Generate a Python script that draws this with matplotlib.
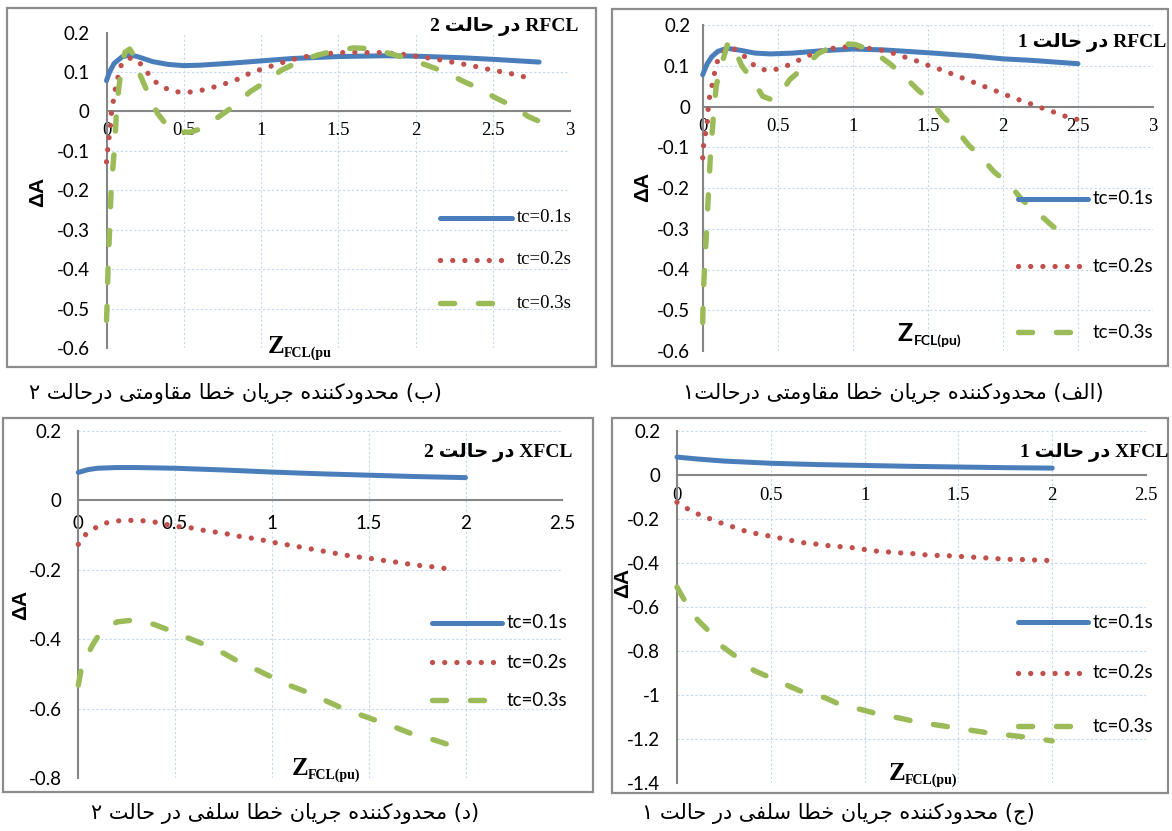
import matplotlib
matplotlib.use('Agg')
import matplotlib.pyplot as plt
from matplotlib.lines import Line2D
from matplotlib.patches import Rectangle
from matplotlib.ticker import FixedLocator, FuncFormatter

W, H = 1172, 831
BLUE = '#4a7ebb'
RED = '#c0504d'
GREEN = '#9bbb59'
GRID = '#c6d8ef'
AXIS = '#868686'
BOX = '#8c8c8c'

legend_labels = ['tc=0.1s', 'tc=0.2s', 'tc=0.3s']

# (ب) RFCL case 2
b_x1 = [0, 0.02, 0.05, 0.1, 0.15, 0.2, 0.3, 0.4, 0.5, 0.6, 0.8, 1.0, 1.2, 1.5, 1.8, 2.0, 2.3, 2.5, 2.8]
b_y1 = [0.078, 0.1, 0.122, 0.138, 0.143, 0.139, 0.126, 0.119, 0.116, 0.117, 0.122, 0.128, 0.134, 0.139, 0.141, 0.14, 0.136, 0.132, 0.125]
b_x2 = [0, 0.008, 0.017, 0.026, 0.033, 0.045, 0.058, 0.075, 0.097, 0.15, 0.2, 0.25, 0.3, 0.36, 0.44, 0.52, 0.6, 0.68, 0.75, 0.83, 0.9, 0.98,
        1.06, 1.13, 1.21, 1.29, 1.37, 1.45, 1.53, 1.61, 1.69, 1.77, 1.85, 1.93, 2.0, 2.09, 2.17, 2.25, 2.32, 2.4, 2.48, 2.56, 2.64, 2.72]
b_y2 = [-0.128, -0.096, -0.065, -0.034, 0.0, 0.028, 0.059, 0.088, 0.12, 0.135, 0.13, 0.106, 0.08, 0.062, 0.05, 0.048, 0.052, 0.06, 0.068, 0.078, 0.092, 0.104,
        0.114, 0.123, 0.132, 0.139, 0.143, 0.147, 0.149, 0.15, 0.149, 0.149, 0.147, 0.144, 0.14, 0.135, 0.13, 0.124, 0.119, 0.113, 0.106, 0.1, 0.094, 0.086]
b_x3 = [0, 0.003, 0.01, 0.02, 0.03, 0.05, 0.065, 0.08, 0.1, 0.12, 0.15, 0.18, 0.22, 0.27, 0.33, 0.4, 0.47, 0.54, 0.62, 0.74,
        0.83, 0.93, 1.03, 1.13, 1.24, 1.36, 1.46, 1.6, 1.72, 1.84, 1.96, 2.08, 2.19, 2.3, 2.41, 2.52, 2.63, 2.73, 2.8]
b_y3 = [-0.53, -0.5, -0.4, -0.3, -0.2, -0.1, 0.0, 0.06, 0.12, 0.15, 0.158, 0.14, 0.09, 0.045, -0.005, -0.04, -0.052, -0.053, -0.043, -0.01,
        0.015, 0.05, 0.075, 0.104, 0.125, 0.142, 0.152, 0.161, 0.159, 0.146, 0.133, 0.116, 0.1, 0.078, 0.058, 0.034, 0.013, -0.013, -0.025]

# (الف) RFCL case 1
a_x1 = [0, 0.03, 0.06, 0.1, 0.16, 0.25, 0.35, 0.45, 0.6, 0.8, 1.0, 1.2, 1.5, 1.8, 2.0, 2.2, 2.5]
a_y1 = [0.078, 0.105, 0.122, 0.135, 0.143, 0.138, 0.131, 0.129, 0.131, 0.137, 0.141, 0.139, 0.132, 0.124, 0.117, 0.113, 0.105]
a_x2 = [0, 0.005, 0.017, 0.03, 0.04, 0.055, 0.07, 0.085, 0.105, 0.15, 0.2, 0.27, 0.32, 0.38, 0.45, 0.53, 0.59, 0.66, 0.73, 0.8,
        0.87, 0.94, 1.02, 1.1, 1.17, 1.24, 1.31, 1.38, 1.45, 1.52, 1.6, 1.66, 1.73, 1.8, 1.87, 1.94, 2.01, 2.08, 2.15, 2.22,
        2.29, 2.36, 2.43, 2.5]
a_y2 = [-0.126, -0.098, -0.07, -0.04, 0.013, 0.039, 0.066, 0.093, 0.12, 0.138, 0.144, 0.126, 0.107, 0.092, 0.088, 0.095, 0.105, 0.117, 0.129, 0.137,
        0.143, 0.146, 0.146, 0.143, 0.14, 0.134, 0.126, 0.117, 0.109, 0.098, 0.089, 0.08, 0.07, 0.06, 0.05, 0.04, 0.03, 0.02, 0.011, 0.002,
        -0.008, -0.016, -0.026, -0.032]
a_x3 = [0, 0.005, 0.015, 0.025, 0.04, 0.05, 0.07, 0.09, 0.115, 0.17, 0.2, 0.26, 0.33, 0.4, 0.45, 0.51, 0.58, 0.68, 0.77,
        0.88, 0.95, 1.02, 1.13, 1.24, 1.33, 1.43, 1.52, 1.6, 1.69, 1.77, 1.86, 1.94, 2.04, 2.13, 2.23, 2.32, 2.42]
a_y3 = [-0.53, -0.45, -0.38, -0.31, -0.2, -0.13, -0.03, 0.05, 0.09, 0.158, 0.152, 0.1, 0.066, 0.025, 0.018, 0.027, 0.066, 0.098, 0.13,
        0.15, 0.154, 0.152, 0.136, 0.107, 0.079, 0.042, 0.013, -0.024, -0.057, -0.094, -0.126, -0.16, -0.19, -0.23, -0.26, -0.29, -0.32]

# (د) XFCL case 2
d_x1 = [0, 0.05, 0.1, 0.2, 0.3, 0.5, 0.75, 1.0, 1.25, 1.5, 1.75, 2.0]
d_y1 = [0.08, 0.088, 0.092, 0.094, 0.094, 0.092, 0.087, 0.081, 0.076, 0.072, 0.068, 0.065]
d_x2 = [0, 0.035, 0.08, 0.13, 0.19, 0.245, 0.3, 0.36, 0.42, 0.47, 0.53, 0.59, 0.64, 0.7, 0.76, 0.82, 0.87, 0.93, 0.98, 1.04,
        1.1, 1.15, 1.21, 1.27, 1.32, 1.38, 1.44, 1.49, 1.55, 1.61, 1.67, 1.72, 1.78, 1.84, 1.9, 1.95]
d_y2 = [-0.127, -0.1, -0.082, -0.067, -0.06, -0.058, -0.058, -0.06, -0.065, -0.072, -0.077, -0.08, -0.086, -0.091, -0.096, -0.103, -0.107, -0.112, -0.118, -0.125,
        -0.13, -0.135, -0.141, -0.147, -0.152, -0.158, -0.163, -0.166, -0.171, -0.176, -0.18, -0.185, -0.189, -0.192, -0.197, -0.2]
d_x3 = [0, 0.017, 0.07, 0.11, 0.2, 0.28, 0.39, 0.47, 0.57, 0.66, 0.75, 0.83, 0.93, 1.01, 1.11, 1.2, 1.29, 1.37, 1.47, 1.56, 1.65, 1.74, 1.84, 1.95]
d_y3 = [-0.532, -0.48, -0.42, -0.384, -0.35, -0.345, -0.357, -0.374, -0.397, -0.417, -0.44, -0.465, -0.49, -0.512, -0.537, -0.556, -0.58, -0.6,
        -0.62, -0.638, -0.656, -0.676, -0.69, -0.71]

# (ج) XFCL case 1
c_x1 = [0, 0.1, 0.25, 0.5, 0.75, 1.0, 1.25, 1.5, 1.75, 2.0]
c_y1 = [0.08, 0.072, 0.062, 0.052, 0.046, 0.042, 0.038, 0.035, 0.032, 0.03]
c_x2 = [0, 0.05, 0.1, 0.16, 0.21, 0.27, 0.33, 0.38, 0.44, 0.5, 0.56, 0.61, 0.67, 0.73, 0.79, 0.85, 0.91, 0.97, 1.03, 1.08,
        1.14, 1.2, 1.26, 1.32, 1.38, 1.44, 1.5, 1.56, 1.62, 1.68, 1.74, 1.79, 1.85, 1.91, 1.98]
c_y2 = [-0.125, -0.152, -0.175, -0.195, -0.212, -0.23, -0.245, -0.262, -0.27, -0.28, -0.29, -0.299, -0.309, -0.314, -0.321, -0.326, -0.329, -0.336, -0.344, -0.349,
        -0.352, -0.356, -0.359, -0.364, -0.367, -0.368, -0.371, -0.374, -0.377, -0.38, -0.384, -0.385, -0.386, -0.388, -0.39]
c_x3 = [0, 0.05, 0.11, 0.18, 0.24, 0.33, 0.41, 0.51, 0.6, 0.69, 0.79, 0.88, 0.98, 1.08, 1.18, 1.28, 1.38, 1.48, 1.57, 1.67, 1.78, 1.88, 2.0]
c_y3 = [-0.511, -0.586, -0.66, -0.72, -0.78, -0.836, -0.89, -0.927, -0.962, -0.995, -1.014, -1.049, -1.067, -1.09, -1.105, -1.124, -1.137,
        -1.15, -1.162, -1.175, -1.185, -1.195, -1.21]

captions = ['(ب) محدودکننده جریان خطا مقاومتی درحالت ۲',
            '(الف) محدودکننده جریان خطا مقاومتی درحالت۱',
            '(د) محدودکننده جریان خطا سلفی در حالت ۲',
            '(ج) محدودکننده جریان خطا سلفی در حالت ۱']
titles_fa = 'در حالت'

# ---- tiny persian shaper (matplotlib has no arabic shaping) ----
FORMS = {
    '\u0627': ('\ufe8d', '\ufe8e', None, None),
    '\u0628': ('\ufe8f', '\ufe90', '\ufe91', '\ufe92'),
    '\u062a': ('\ufe95', '\ufe96', '\ufe97', '\ufe98'),
    '\u062c': ('\ufe9d', '\ufe9e', '\ufe9f', '\ufea0'),
    '\u062d': ('\ufea1', '\ufea2', '\ufea3', '\ufea4'),
    '\u062e': ('\ufea5', '\ufea6', '\ufea7', '\ufea8'),
    '\u062f': ('\ufea9', '\ufeaa', None, None),
    '\u0631': ('\ufead', '\ufeae', None, None),
    '\u0633': ('\ufeb1', '\ufeb2', '\ufeb3', '\ufeb4'),
    '\u0637': ('\ufec1', '\ufec2', '\ufec3', '\ufec4'),
    '\u0641': ('\ufed1', '\ufed2', '\ufed3', '\ufed4'),
    '\u0642': ('\ufed5', '\ufed6', '\ufed7', '\ufed8'),
    '\u0644': ('\ufedd', '\ufede', '\ufedf', '\ufee0'),
    '\u0645': ('\ufee1', '\ufee2', '\ufee3', '\ufee4'),
    '\u0646': ('\ufee5', '\ufee6', '\ufee7', '\ufee8'),
    '\u0647': ('\ufee9', '\ufeea', '\ufeeb', '\ufeec'),
    '\u0648': ('\ufeed', '\ufeee', None, None),
    '\u06a9': ('\ufb8e', '\ufb8f', '\ufb90', '\ufb91'),
    '\u06cc': ('\ufbfc', '\ufbfd', '\ufbfe', '\ufbff'),
}


def fa(s):
    s = s.replace('\u0643', '\u06a9').replace('\u064a', '\u06cc')
    out = []
    for i, ch in enumerate(s):
        if ch not in FORMS:
            out.append(ch)
            continue
        prev = s[i - 1] if i > 0 else ''
        nxt = s[i + 1] if i + 1 < len(s) else ''
        jp = prev in FORMS and FORMS[prev][2] is not None
        jn = FORMS[ch][2] is not None and nxt in FORMS
        iso, fin, ini, med = FORMS[ch]
        if jp and jn:
            out.append(med)
        elif jp:
            out.append(fin)
        elif jn:
            out.append(ini)
        else:
            out.append(iso)
    vis = ''.join(out)[::-1]
    return vis.translate(str.maketrans('()', ')('))


def fx(x):
    return x / W


def fy(y):
    return 1 - y / H


def yfmt(v, pos):
    r = round(v, 2)
    if abs(r) < 1e-9:
        return '0'
    return f'{r:g}'


fig = plt.figure(figsize=(W / 100, H / 100), dpi=100)

SERIF = ['Liberation Serif', 'DejaVu Serif']
SANS = ['Lato', 'DejaVu Sans']

panels = [
    dict(px=(106.5, 570, 32.5, 348), xmax=3, ylim=(-0.6, 0.2), ystep=0.1, box=(7, 8, 596, 367),
         data=[(b_x1, b_y1), (b_x2, b_y2), (b_x3, b_y3)], xfont=SERIF, ypad=12, xpad=8,
         title=('RFCL', '2'), title_pos=(578, 27), ylab=(38, 192),
         z=(268, 353, 'FCL(pu', SERIF), leg=(440, 512, 517, [218, 260, 303], SERIF),
         cap=(235, 393, captions[0])),
    dict(px=(702.7, 1153, 25, 351), xmax=3, ylim=(-0.6, 0.2), ystep=0.1, box=(612, 9, 1168, 366),
         data=[(a_x1, a_y1), (a_x2, a_y2), (a_x3, a_y3)], xfont=SERIF, ypad=9, xpad=8,
         title=('RFCL', '1'), title_pos=(1166, 42), ylab=(643, 187),
         z=(898, 341, 'FCL(pu)', SANS), leg=(1018, 1088, 1093, [199, 266, 332], SANS),
         cap=(893, 393, captions[1])),
    dict(px=(78.3, 562.3, 430.7, 778.3), xmax=2.5, ylim=(-0.8, 0.2), ystep=0.2, box=(3, 418, 593, 792),
         data=[(d_x1, d_y1), (d_x2, d_y2), (d_x3, d_y3)], xfont=SANS, ypad=12, xpad=11,
         title=('XFCL', '2'), title_pos=(572, 452), ylab=(21, 605),
         z=(292, 775, 'FCL(pu)', SERIF), leg=(432, 502, 507, [623, 662, 700], SANS),
         cap=(285, 814, captions[2])),
    dict(px=(677, 1146, 430.7, 782.7), xmax=2.5, ylim=(-1.4, 0.2), ystep=0.2, box=(612, 418, 1168, 793),
         data=[(c_x1, c_y1), (c_x2, c_y2), (c_x3, c_y3)], xfont=SERIF, ypad=12, xpad=9,
         title=('XFCL', '1'), title_pos=(1168, 453), ylab=(623, 583),
         z=(889, 780, 'FCL(pu)', SERIF), leg=(1018, 1088, 1093, [622, 673, 726], SANS),
         cap=(838, 813, captions[3])),
]

styles = [
    dict(color=BLUE, lw=3.6, linestyle='-', solid_capstyle='round'),
    dict(color=RED, lw=3.8, linestyle=(0, (0.01, 2.3)), dash_capstyle='round'),
    dict(color=GREEN, lw=3.9, linestyle=(0, (2.6, 4.4)), dash_capstyle='round'),
]

for p in panels:
    x0, x1, yt, yb = p['px']
    bx0, by0, bx1, by1 = p['box']
    fig.add_artist(Rectangle((fx(bx0), fy(by1)), fx(bx1) - fx(bx0), fy(by0) - fy(by1),
                             transform=fig.transFigure, fill=False, ec=BOX, lw=1.6))

    ax = fig.add_axes([fx(x0), fy(yb), fx(x1) - fx(x0), fy(yt) - fy(yb)])
    ax.set_facecolor('none')
    ymin, ymax = p['ylim']
    ax.set_xlim(0, p['xmax'])
    ax.set_ylim(ymin, ymax)
    n_x = int(round(p['xmax'] / 0.5))
    ax.xaxis.set_major_locator(FixedLocator([0.5 * i for i in range(n_x + 1)]))
    n_y = int(round((ymax - ymin) / p['ystep']))
    ax.yaxis.set_major_locator(FixedLocator([ymin + p['ystep'] * i for i in range(n_y + 1)]))
    ax.yaxis.set_major_formatter(FuncFormatter(yfmt))
    ax.xaxis.set_major_formatter(FuncFormatter(lambda v, pos: f'{v:g}'))
    ax.grid(True, color=GRID, linestyle=(0, (2, 2)), lw=0.8)
    ax.set_axisbelow(True)
    for s in ['top', 'right']:
        ax.spines[s].set_visible(False)
    ax.spines['bottom'].set_position(('data', 0))
    ax.spines['bottom'].set_color(AXIS)
    ax.spines['bottom'].set_linewidth(1.5)
    ax.spines['left'].set_color(AXIS)
    ax.spines['left'].set_linewidth(1.5)
    ax.tick_params(length=0)
    ax.tick_params(axis='y', pad=p['ypad'])
    ax.tick_params(axis='x', pad=p['xpad'])
    for lab in ax.get_yticklabels():
        lab.set_family(SANS)
        lab.set_fontsize(13.5)
    for lab in ax.get_xticklabels():
        lab.set_family(p['xfont'])
        lab.set_fontsize(13.5)

    for (xs, ys), st in zip(p['data'], styles):
        ax.plot(xs, ys, clip_on=False, zorder=3, **st)

    # title
    tx, ty = p['title_pos']
    fig.text(fx(tx), fy(ty), p['title'][1] + ' ' + fa(titles_fa) + ' ' + p['title'][0],
             ha='right', va='center', fontsize=14, fontweight='bold', family=['Liberation Serif', 'DejaVu Sans'])

    # y label
    lx, ly = p['ylab']
    fig.text(fx(lx), fy(ly), '\u0394A', rotation=90, ha='center', va='center',
             fontsize=15, fontweight='bold', family=['Liberation Sans', 'DejaVu Sans'])

    # x label Z_FCL(pu)
    zx, zy, sub, zfont = p['z']
    fig.text(fx(zx), fy(zy), 'Z', ha='left', va='baseline', fontsize=18, fontweight='bold', family=zfont)
    fig.text(fx(zx + 16), fy(zy + 4), sub, ha='left', va='baseline', fontsize=10, fontweight='bold', family=zfont)

    # legend
    lx0, lx1, ltx, lys, lfont = p['leg']
    for ly_, st, lab in zip(lys, styles, legend_labels):
        fig.add_artist(Line2D([fx(lx0), fx(lx1)], [fy(ly_), fy(ly_)], transform=fig.transFigure, **st))
        fig.text(fx(ltx), fy(ly_), lab, ha='left', va='center', fontsize=13.5, family=lfont)

    # caption
    cx, cy, ctext = p['cap']
    fig.text(fx(cx), fy(cy), fa(ctext), ha='center', va='center', fontsize=15, family=['DejaVu Sans'])

fig.savefig('out.png', dpi=100)
